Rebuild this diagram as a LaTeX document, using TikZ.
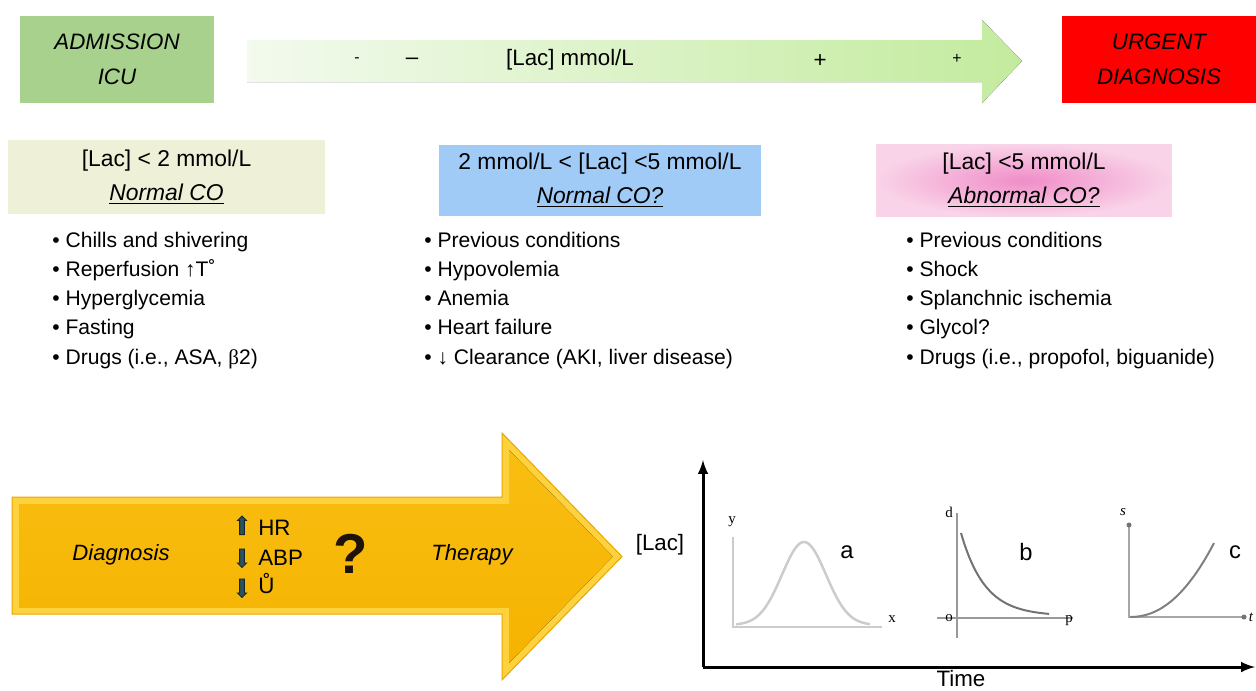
\documentclass[tikz,border=0pt]{standalone}
\usepackage{fontspec}
\setmainfont{Liberation Sans}
\newfontfamily\serifface{Liberation Serif}
\usetikzlibrary{shapes.arrows,positioning}

\definecolor{admgreen}{HTML}{A8D18D}
\definecolor{urgred}{HTML}{FF0000}
\definecolor{barpale}{HTML}{F3FAEE}
\definecolor{bargreen}{HTML}{C3EB9E}
\definecolor{lowbeige}{HTML}{EFF0D8}
\definecolor{midblue}{HTML}{A0CBF7}
\definecolor{hipink}{HTML}{F08DC8}
\definecolor{hipale}{HTML}{F9D3E8}
\definecolor{goldrim}{HTML}{FDD23E}
\definecolor{goldtop}{HTML}{F9BE12}
\definecolor{goldbot}{HTML}{F5B300}
\definecolor{goldedge}{HTML}{E8A600}
\definecolor{vitalfill}{HTML}{2C525C}
\definecolor{vitaldark}{HTML}{16252A}

\tikzstyle{banner} = [rectangle, minimum width=3.88cm, minimum height=1.74cm, align=center, font=\itshape\fontsize{12.7}{19.8}\selectfont]
\tikzstyle{lacbox} = [rectangle, align=center, font=\fontsize{13}{19.3}\selectfont]
\tikzstyle{item} = [anchor=west, inner sep=0pt, text height=11pt, text depth=2.5pt, font=\fontsize{12}{14}\selectfont]
\tikzstyle{lbl} = [inner sep=0pt, font=\fontsize{12.7}{15}\selectfont]
\tikzstyle{axlbl} = [inner sep=0pt, font=\serifface\fontsize{8.5}{9}\selectfont]
\tikzstyle{vital} = [single arrow, fill=vitalfill, draw=vitaldark, line width=0.5pt, inner sep=1.1pt, minimum height=0.37cm, single arrow head extend=1.2pt, single arrow head indent=0pt]
\tikzstyle{plota} = [draw=black!20, line width=0.05cm]
\tikzstyle{plotb} = [draw=black!40, line width=0.03cm]
\tikzstyle{plotc} = [draw=black!35, line width=0.04cm]

\begin{document}
\begin{tikzpicture}[x=0.02cm,y=-0.02cm,>=latex]
  \useasboundingbox (0,0) rectangle (1256,690);

  % lactate scale
  \fill[left color=barpale, right color=bargreen] (247,40) -- (982,40) -- (982,20) -- (1022,61) -- (982,103) -- (982,82) -- (247,82) -- cycle;
  \node[banner, fill=admgreen] (adm) at (117,59.5) {ADMISSION\\ICU};
  \node[banner, fill=urgred] (urg) at (1159,59.5) {URGENT\\DIAGNOSIS};
  \node[lbl, font=\fontsize{9}{10}\selectfont] (lo) at (357,60) {-};
  \node[lbl] (dash) at (412,61) {–};
  \node[lbl] (unit) at (570,60) {[Lac] mmol/L};
  \node[lbl] (hi) at (820,61) {+};
  \node[lbl, font=\fontsize{9}{10}\selectfont] (hihi) at (957,59) {+};

  % three ranges
  \node[lacbox, fill=lowbeige, minimum width=6.34cm, minimum height=1.48cm] (normal) at (166.5,177) {[Lac] < 2 mmol/L\\\underline{\textit{Normal CO}}};
  \node[lacbox, fill=midblue, minimum width=6.44cm, minimum height=1.42cm] (border) at (600,180.5) {2 mmol/L < [Lac] <5 mmol/L\\\underline{\textit{Normal CO?}}};
  \node[lacbox, inner color=hipink, outer color=hipale, minimum width=5.92cm, minimum height=1.44cm] (abnormal) at (1024,180.5) {[Lac] <5 mmol/L\\\underline{\textit{Abnormal CO?}}};

  \node[item] (n1) at (52,240) {• Chills and shivering};
  \node[item] (n2) at (52,269) {• Reperfusion ↑T˚};
  \node[item] (n3) at (52,298) {• Hyperglycemia};
  \node[item] (n4) at (52,327) {• Fasting};
  \node[item] (n5) at (52,357) {• Drugs (i.e., ASA, {\serifface β}2)};

  \node[item] (b1) at (424,240) {• Previous conditions};
  \node[item] (b2) at (424,269) {• Hypovolemia};
  \node[item] (b3) at (424,298) {• Anemia};
  \node[item] (b4) at (424,327) {• Heart failure};
  \node[item] (b5) at (424,357) {• ↓ Clearance (AKI, liver disease)};

  \node[item] (a1) at (906,240) {• Previous conditions};
  \node[item] (a2) at (906,269) {• Shock};
  \node[item] (a3) at (906,298) {• Splanchnic ischemia};
  \node[item] (a4) at (906,327) {• Glycol?};
  \node[item] (a5) at (906,357) {• Drugs (i.e., propofol, biguanide)};

  % diagnosis -> therapy
  \filldraw[fill=goldrim, draw=goldedge, line width=0.02cm] (12,497) -- (502,497) -- (502,433) -- (622,556.5) -- (502,680) -- (502,614) -- (12,614) -- cycle;
  \fill[top color=goldtop, bottom color=goldbot] (19,504) -- (509,504) -- (509,450) -- (612.7,556.5) -- (509,663) -- (509,607) -- (19,607) -- cycle;
  \node[lbl, font=\itshape\fontsize{12.6}{15}\selectfont] (diag) at (121,555) {Diagnosis};
  \node[vital, rotate=90] (uphr) at (242,526.5) {};
  \node[vital, rotate=-90] (dnabp) at (242,557) {};
  \node[vital, rotate=-90] (dnuo) at (242,587) {};
  \node[lbl, anchor=base west] (hr) at (258,535) {HR};
  \node[lbl, anchor=base west] (abp) at (258,565) {ABP};
  \node[lbl, anchor=base west] (uo) at (258,593) {Ů};
  \node[lbl, font=\bfseries\fontsize{32}{32}\selectfont, text=black!85!brown] (qm) at (351,554) {?};
  \node[lbl, font=\itshape\fontsize{12.6}{15}\selectfont] (ther) at (472,555) {Therapy};

  % lactate curves
  \coordinate (O) at (703,667);
  \coordinate (ytip) at (703,460);
  \coordinate (xtip) at (1255,667);
  \draw[->, line width=0.06cm] (O) -- (ytip);
  \draw[->, line width=0.06cm] (O) -- (xtip);
  \node[lbl] (lac) at (660,545) {[Lac]};
  \node[lbl] (time) at (961,679) {Time};

  \coordinate (ay) at (733,537);
  \coordinate (ao) at (733,627);
  \coordinate (ax) at (882,627);
  \draw[plota] (ay) -- (ao) -- (ax);
  \draw[plota] plot[domain=736:870, samples=70, smooth] (\x, {625-83*exp(-((\x-804)/22)^2/2)});
  \node[axlbl] (ya) at (732,522) {y};
  \node[axlbl] (xa) at (892,619) {x};
  \node[lbl, font=\fontsize{13.5}{15}\selectfont] (la) at (847,552) {a};

  \coordinate (bd) at (957,513);
  \coordinate (bb) at (957,638);
  \coordinate (bl) at (937,618);
  \coordinate (bp) at (1073,618);
  \draw[plotb] (bd) -- (bb);
  \draw[plotb] (bl) -- (bp);
  \draw[draw=black!55, line width=0.04cm] plot[domain=961:1049, samples=50, smooth] (\x, {616-83*exp(-(\x-961)/24)});
  \node[axlbl] (db) at (949,512) {d};
  \node[axlbl] (ob) at (949,618) {o};
  \node[axlbl] (pb) at (1069,621) {p};
  \node[lbl, font=\fontsize{13.5}{15}\selectfont] (lb) at (1026,552) {b};

  \coordinate (cs) at (1129,525);
  \coordinate (co) at (1129,617);
  \coordinate (ct) at (1244,617);
  \draw[plotc] (cs) -- (co) -- (ct);
  \fill[black!55] (cs) circle (2.5) (ct) circle (2.5);
  \draw[draw=black!50, line width=0.04cm] plot[domain=1130:1214, samples=50, smooth] (\x, {617-74*((\x-1129)/85)^2.2});
  \node[axlbl, font=\serifface\itshape\fontsize{8.5}{9}\selectfont] (sc) at (1123,512) {s};
  \node[axlbl, font=\serifface\itshape\fontsize{8.5}{9}\selectfont] (tc) at (1251,617) {t};
  \node[lbl, font=\fontsize{13.5}{15}\selectfont] (lc) at (1235,552) {c};
\end{tikzpicture}
\end{document}
